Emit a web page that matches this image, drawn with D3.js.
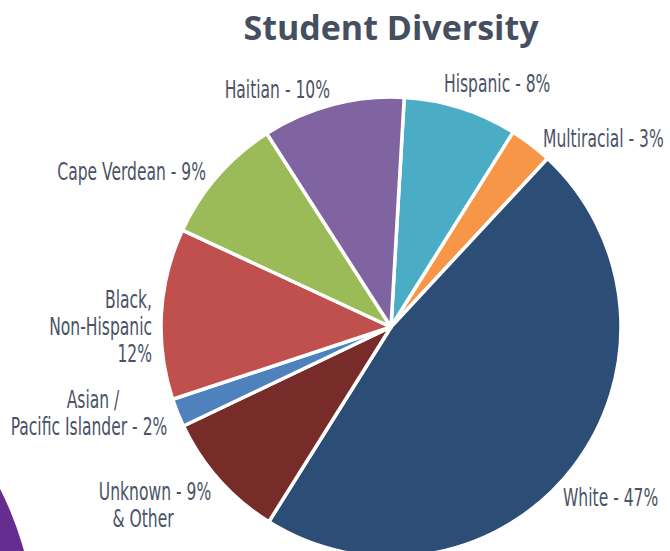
<!DOCTYPE html>
<html lang="en">
<head>
    <meta charset="UTF-8">
    <title>Student Diversity</title>
    <script src="https://d3js.org/d3.v7.min.js"></script>
    <style>
        body { margin: 0; background: #fff; }
        .lbl { font-family: "Liberation Sans Narrow", "DejaVu Sans Condensed", sans-serif; font-size: 24px; fill: #4a5366; }
    </style>
</head>
<body>
    <svg width="670" height="551"></svg>
    <script>
        // data, clockwise from the top
        const groups = ["Hispanic", "Multiracial", "White", "Unknown", "Asian", "Black", "Cape Verdean", "Haitian"];
        const shares = [8, 3, 47, 9, 2, 12, 9, 10];
        const colors = ["#4bacc6", "#f79646", "#2c4d75", "#772c2a", "#4f81bd", "#c0504d", "#9bbb59", "#8064a2"];
        const labelLines = [
            ["Hispanic - 8%"],
            ["Multiracial - 3%"],
            ["White - 47%"],
            ["Unknown - 9%", "& Other"],
            ["Asian /", "Pacific Islander - 2%"],
            ["Black,", "Non-Hispanic", "12%"],
            ["Cape Verdean - 9%"],
            ["Haitian - 10%"]
        ];

        // label placement (x, first baseline, anchor, per-line x shift)
        const labelLayout = [
            {x: 444, y: 92, anchor: "start"},
            {x: 543, y: 147, anchor: "start"},
            {x: 563, y: 506, anchor: "start"},
            {x: 155, y: 500, anchor: "middle", shift: [0, -12]},
            {x: 90, y: 408, anchor: "middle", shift: [3, -1]},
            {x: 152, y: 308, anchor: "end"},
            {x: 206, y: 180, anchor: "end"},
            {x: 330, y: 98, anchor: "end"}
        ];

        const svg = d3.select("svg");
        const cx = 391, cy = 327, radius = 230;
        const squeeze = 0.72;   // narrow the labels
        const lineH = 27;

        // purple decoration in the corner
        svg.append("circle")
            .attr("cx", -300)
            .attr("cy", 640)
            .attr("r", 336)
            .attr("fill", "#662d91");

        svg.append("text")
            .attr("x", cx)
            .attr("y", 40)
            .attr("text-anchor", "middle")
            .style("font-family", "'Open Sans', Lato, sans-serif")
            .style("font-weight", "bold")
            .style("font-size", "34px")
            .style("fill", "#454f5f")
            .text("Student Diversity");

        const pie = d3.pie()
            .sort(null)
            .value(d => d)
            .startAngle(3.3 * Math.PI / 180)
            .endAngle(3.3 * Math.PI / 180 + 2 * Math.PI);

        const arc = d3.arc().innerRadius(0).outerRadius(radius);

        const g = svg.append("g").attr("transform", `translate(${cx},${cy})`);

        g.selectAll("path")
            .data(pie(shares))
            .enter().append("path")
            .attr("d", arc)
            .attr("fill", (d, i) => colors[i])
            .attr("stroke", "#fff")
            .attr("stroke-width", 3.5)
            .attr("stroke-linejoin", "round");

        // labels
        labelLines.forEach((lines, i) => {
            const L = labelLayout[i];
            const t = svg.append("g")
                .attr("transform", `translate(${L.x},${L.y}) scale(${squeeze},1)`)
                .append("text")
                .attr("class", "lbl")
                .attr("text-anchor", L.anchor);
            lines.forEach((s, k) => {
                t.append("tspan")
                    .attr("x", (L.shift ? L.shift[k] : 0) / squeeze)
                    .attr("y", k * lineH)
                    .text(s);
            });
        });
    </script>
</body>
</html>
